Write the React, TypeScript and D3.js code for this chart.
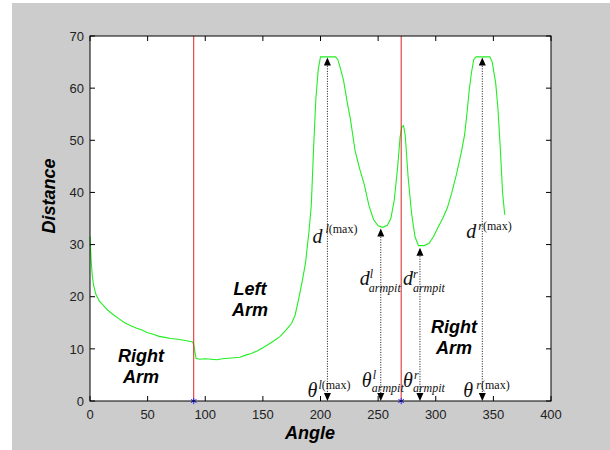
import * as d3 from 'd3';

// curve samples: angle (deg) -> distance
const angles = [0, 1, 2, 3, 5, 8, 11, 15, 20, 25, 30, 35, 40, 45, 50, 55, 60, 65, 70, 75, 80, 85, 89, 90, 92, 95, 100, 105, 110, 115, 120, 125, 130, 135, 140, 145, 150, 155, 160, 165, 170, 175, 178, 181, 184, 187, 190, 192, 194, 196, 198, 200, 213, 215, 217, 220, 223, 226, 230, 234, 238, 242, 246, 250, 254, 258, 261, 264, 267, 269, 270.5, 272, 273.5, 276, 279, 282, 285, 290, 294, 298, 302, 306, 310, 314, 318, 322, 325, 327, 329, 331, 333, 335, 347, 349, 352, 354, 356, 358, 359.5, 360];
const distances = [31.5, 27, 24, 22.3, 20.5, 19.2, 18.5, 17.5, 16.6, 15.8, 15.0, 14.5, 14.0, 13.6, 13.1, 12.8, 12.4, 12.2, 12.0, 11.9, 11.7, 11.5, 11.3, 10.8, 8.2, 8.0, 8.1, 8.0, 7.9, 8.1, 8.2, 8.3, 8.4, 8.8, 9.1, 9.6, 10.2, 10.9, 11.6, 12.4, 13.6, 14.9, 16.5, 19.5, 22.8, 26.5, 32.5, 37.5, 48.5, 58, 63.5, 66, 66, 65.5, 64, 61.5, 57.5, 54, 48, 44.5, 41.5, 37.5, 34.8, 33.6, 33.3, 33.7, 35, 38.5, 45, 50.5, 52.5, 52.8, 51, 43, 36, 31.5, 29.8, 29.8, 30.2, 31.5, 33.3, 35, 37, 40, 43.5, 47.5, 51, 55, 59.5, 63, 65.5, 66, 66, 65, 61, 56, 48.5, 40, 36.5, 35.7];

const xTicks = [0, 50, 100, 150, 200, 250, 300, 350, 400];
const yTicks = [0, 10, 20, 30, 40, 50, 60, 70];

// body boundaries (red lines / blue markers)
const splitAngles = [90, 270];

// annotation arrows
const markAngles = [206, 252.3, 286.3, 340.4];
const markTops = [65.9, 33.1, 29.4, 65.9];

const W = 610;
const H = 450;
const plot = { left: 90, top: 36, right: 551, bottom: 401 };

const regionLabels = [
  { lines: ['Right', 'Arm'], angle: 44.3, dist: 7.5 },
  { lines: ['Left', 'Arm'], angle: 138.8, dist: 20.4 },
  { lines: ['Right', 'Arm'], angle: 315.8, dist: 13 },
];

function MathLabel({ x, y, base, sup, supIt, sub, supDx, supDy, subDx, subDy, size, small }:
  { x: number; y: number; base: string; sup: string; supIt: string; sub?: string; supDx: number; supDy: number; subDx?: number; subDy?: number; size: number; small: number }) {
  return (
    <g fontFamily="'Liberation Serif', 'Times New Roman', serif" fill="#111">
      <text x={x} y={y} fontSize={size} fontStyle="italic">{base}</text>
      <text x={x + supDx} y={y + supDy} fontSize={small}>
        <tspan fontStyle="italic">{supIt}</tspan>
        {sup}
      </text>
      {sub && (
        <text x={x + (subDx || 0)} y={y + (subDy || 0)} fontSize={small} fontStyle="italic">{sub}</text>
      )}
    </g>
  );
}

export default function App() {
  const x = d3.scaleLinear().domain([0, 400]).range([plot.left, plot.right]);
  const y = d3.scaleLinear().domain([0, 70]).range([plot.bottom, plot.top]);

  const pts: [number, number][] = angles.map((a, i) => [a, distances[i]]);
  const line = d3.line<[number, number]>().x(d => x(d[0])).y(d => y(d[1]));

  const star = d3.symbol(d3.symbolAsterisk, 28)();
  const tickLen = 5;

  const arrowUp = (cx: number, cy: number) => `M${cx},${cy} L${cx - 3.5},${cy + 8} L${cx + 3.5},${cy + 8} Z`;
  const arrowDown = (cx: number, cy: number) => `M${cx},${cy} L${cx - 3.5},${cy - 8} L${cx + 3.5},${cy - 8} Z`;

  const dLabels = [
    { dx: -15, dy: 243, supIt: 'l', sup: '(max)', supDx: 13, supDy: -10 },
    { dx: -21, dy: 285, supIt: 'l', sup: '', supDx: 10, supDy: -7, sub: 'armpit', subDx: 9, subDy: 7 },
    { dx: -17, dy: 285, supIt: 'r', sup: '', supDx: 10, supDy: -7, sub: 'armpit', subDx: 10, subDy: 7 },
    { dx: -16, dy: 238, supIt: 'r', sup: '(max)', supDx: 12, supDy: -8 },
  ];
  const tLabels = [
    { dx: -20, dy: 397, supIt: 'l', sup: '(max)', supDx: 11, supDy: -8 },
    { dx: -19, dy: 387, supIt: 'l', sup: '', supDx: 11, supDy: -8, sub: 'armpit', subDx: 10, subDy: 5 },
    { dx: -17, dy: 387, supIt: 'r', sup: '', supDx: 11, supDy: -8, sub: 'armpit', subDx: 10, subDy: 5 },
    { dx: -19, dy: 397, supIt: 'r', sup: '(max)', supDx: 13, supDy: -8 },
  ];

  return (
    <svg width={W} height={H} style={{ position: 'absolute', left: 0, top: 0 }}>
      <rect x={0} y={0} width={W} height={H} fill="#fff" />
      <rect x={12} y={3} width={W - 12} height={H - 3} fill="#cccccc" />
      <rect x={plot.left} y={plot.top} width={plot.right - plot.left} height={plot.bottom - plot.top} fill="#fff" />

      {/* curve */}
      <path d={line(pts) || ''} fill="none" stroke="#22ee22" strokeWidth={1.1} />

      {/* split lines */}
      {splitAngles.map(a => (
        <line key={a} x1={x(a)} x2={x(a)} y1={plot.top} y2={plot.bottom} stroke="#dd2222" strokeWidth={1} />
      ))}

      {/* annotation arrows */}
      {markAngles.map((a, i) => (
        <g key={a}>
          <line x1={x(a)} x2={x(a)} y1={y(markTops[i]) + 6} y2={y(0) - 6} stroke="#111" strokeWidth={1} strokeDasharray="1,1.5" />
          <path d={arrowUp(x(a), y(markTops[i]))} fill="#000" />
          <path d={arrowDown(x(a), y(0))} fill="#000" />
        </g>
      ))}

      {markAngles.map((a, i) => (
        <MathLabel key={'d' + a} x={x(a) + dLabels[i].dx} y={dLabels[i].dy} base="d" size={20} small={12}
          supIt={dLabels[i].supIt} sup={dLabels[i].sup} supDx={dLabels[i].supDx} supDy={dLabels[i].supDy}
          sub={dLabels[i].sub} subDx={dLabels[i].subDx} subDy={dLabels[i].subDy} />
      ))}
      {markAngles.map((a, i) => (
        <MathLabel key={'t' + a} x={x(a) + tLabels[i].dx} y={tLabels[i].dy} base="θ" size={20} small={12}
          supIt={tLabels[i].supIt} sup={tLabels[i].sup} supDx={tLabels[i].supDx} supDy={tLabels[i].supDy}
          sub={tLabels[i].sub} subDx={tLabels[i].subDx} subDy={tLabels[i].subDy} />
      ))}

      {/* region labels */}
      {regionLabels.map((r, i) => (
        <text key={i} x={x(r.angle)} y={y(r.dist)} textAnchor="middle" fontFamily="'Liberation Sans', Arial, sans-serif"
          fontWeight="bold" fontStyle="italic" fontSize={18} fill="#000">
          {r.lines.map((l, j) => (
            <tspan key={j} x={x(r.angle)} dy={j === 0 ? 0 : 21}>{l}</tspan>
          ))}
        </text>
      ))}

      {/* blue markers on axis */}
      {splitAngles.map(a => (
        <path key={'s' + a} d={star || ''} transform={`translate(${x(a)},${y(0)})`} fill="none" stroke="#2222ff" strokeWidth={1} />
      ))}

      {/* axes box */}
      <rect x={plot.left} y={plot.top} width={plot.right - plot.left} height={plot.bottom - plot.top} fill="none" stroke="#000" strokeWidth={1} />
      {xTicks.map(t => (
        <g key={'x' + t}>
          <line x1={x(t)} x2={x(t)} y1={plot.bottom} y2={plot.bottom - tickLen} stroke="#000" />
          <line x1={x(t)} x2={x(t)} y1={plot.top} y2={plot.top + tickLen} stroke="#000" />
          <text x={x(t)} y={419} textAnchor="middle" fontFamily="'Liberation Sans', Arial, sans-serif" fontSize={13} fill="#222">{t}</text>
        </g>
      ))}
      {yTicks.map(t => (
        <g key={'y' + t}>
          <line x1={plot.left} x2={plot.left + tickLen} y1={y(t)} y2={y(t)} stroke="#000" />
          <line x1={plot.right} x2={plot.right - tickLen} y1={y(t)} y2={y(t)} stroke="#000" />
          <text x={84} y={y(t)} dy="0.36em" textAnchor="end" fontFamily="'Liberation Sans', Arial, sans-serif" fontSize={13} fill="#222">{t}</text>
        </g>
      ))}

      {/* axis titles */}
      <text x={310} y={439} textAnchor="middle" fontFamily="'Liberation Sans', Arial, sans-serif" fontWeight="bold" fontStyle="italic" fontSize={18}>Angle</text>
      <text transform="translate(55,196) rotate(-90)" textAnchor="middle" fontFamily="'Liberation Sans', Arial, sans-serif" fontWeight="bold" fontStyle="italic" fontSize={18}>Distance</text>
    </svg>
  );
}
